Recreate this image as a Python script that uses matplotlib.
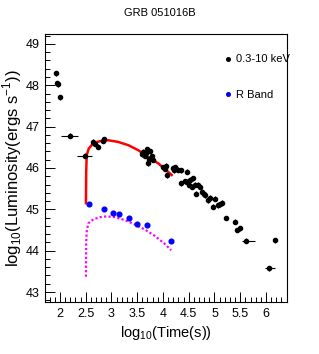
import numpy as np
import matplotlib
matplotlib.use('Agg')
import matplotlib.pyplot as plt
from matplotlib.lines import Line2D
from matplotlib.ticker import MultipleLocator

plt.rcParams['font.family'] = ['Liberation Sans', 'DejaVu Sans']
plt.rcParams['mathtext.fontset'] = 'custom'
plt.rcParams['mathtext.rm'] = 'Liberation Sans'

# X-ray (0.3-10 keV), log10 t and log10 L
xray_t = [1.92, 1.95, 1.97, 2.00, 2.65, 2.68, 2.73, 2.85, 2.83,
          3.59, 3.62, 3.65, 3.68, 3.70, 3.72, 3.71, 3.75, 3.78, 3.80,
          4.00, 4.04, 4.07, 4.06, 4.20, 4.23, 4.22, 4.30, 4.36, 4.46,
          4.36, 4.42, 4.46, 4.50, 4.52, 4.56, 4.59, 4.62, 4.65, 4.69,
          4.72, 4.75, 4.80, 4.82, 4.88, 4.92, 4.98, 5.01, 5.07, 5.10,
          5.14, 5.40, 5.43, 5.50, 6.17]
xray_L = [48.29, 48.05, 48.02, 47.71, 46.63, 46.58, 46.51, 46.69, 46.66,
          46.33, 46.39, 46.30, 46.35, 46.45, 46.22, 46.11, 46.40, 46.28, 46.20,
          46.02, 45.98, 45.82, 46.05, 45.99, 46.02, 45.95, 45.96, 45.94, 45.91,
          45.63, 45.68, 45.67, 45.60, 45.71, 45.55, 45.75, 45.60, 45.38, 45.59,
          45.55, 45.42, 45.38, 45.34, 45.22, 45.28, 45.06, 45.26, 45.10, 45.12,
          45.16, 44.70, 44.50, 44.54, 44.25]

# X-ray bins with time error bars
bin_t = [2.19, 2.49, 5.22, 5.61, 6.05]
bin_L = [46.78, 46.30, 44.79, 44.24, 43.57]
bin_lo = [2.03, 2.34, 5.18, 5.53, 5.98]
bin_hi = [2.36, 2.63, 5.26, 5.79, 6.17]

# R band
r_t = [2.56, 2.85, 3.04, 3.15, 3.35, 3.50, 3.69, 4.16]
r_L = [45.12, 45.00, 44.91, 44.88, 44.80, 44.64, 44.61, 44.23]

# model curves
red_t = [2.505, 2.51, 2.52, 2.56, 2.65, 2.78, 2.94, 3.13, 3.33, 3.52, 3.71, 3.91, 4.04, 4.17]
red_L = [45.15, 45.90, 46.31, 46.47, 46.60, 46.65, 46.67, 46.63, 46.55, 46.43, 46.27, 46.11, 45.97, 45.83]
mag_t = [2.505, 2.51, 2.52, 2.55, 2.65, 2.78, 2.91, 3.07, 3.26, 3.46, 3.65, 3.84, 4.03, 4.16]
mag_L = [43.37, 44.20, 44.46, 44.66, 44.76, 44.81, 44.83, 44.81, 44.74, 44.63, 44.51, 44.36, 44.17, 44.01]

fig = plt.figure(figsize=(3.19, 3.54), dpi=100)
ax = fig.add_axes([0.141, 0.147, 0.759, 0.757])

ax.plot(red_t, red_L, color='#ff0000', lw=1.8, zorder=2)
ax.plot(mag_t, mag_L, color='#ff00ff', lw=1.6, ls=(0, (1, 1)), zorder=2)

ax.errorbar(xray_t, xray_L, yerr=0.06, fmt='o', ms=3.0, color='black',
            ecolor='black', elinewidth=0.8, capsize=0, zorder=3)
xerr = [np.array(bin_t) - np.array(bin_lo), np.array(bin_hi) - np.array(bin_t)]
ax.errorbar(bin_t, bin_L, xerr=xerr, yerr=0.06, fmt='o', ms=3.0, color='black',
            ecolor='black', elinewidth=0.8, capsize=0, zorder=3)
ax.errorbar(r_t, r_L, yerr=0.04, fmt='o', ms=3.4, color='#0000ff',
            ecolor='#0000ff', elinewidth=0.8, capsize=0, zorder=3)

ax.set_xlim(1.71, 6.41)
ax.set_ylim(42.76, 49.24)
ax.xaxis.set_major_locator(MultipleLocator(0.5))
ax.xaxis.set_minor_locator(MultipleLocator(0.1))
ax.yaxis.set_major_locator(MultipleLocator(1))
ax.yaxis.set_minor_locator(MultipleLocator(0.2))
ax.xaxis.set_major_formatter(plt.FuncFormatter(lambda v, p: '%g' % v))
ax.tick_params(which='both', direction='in', top=False, right=False, labelsize=9, width=0.7)
ax.tick_params(which='major', length=7, pad=4)
ax.tick_params(which='minor', length=3.5)
for s in ax.spines.values():
    s.set_linewidth(0.8)

ax.set_xlabel(r'log$_{10}$(Time(s))', fontsize=10.5, labelpad=3)
ax.set_ylabel(r'log$_{10}$(Luminosity(ergs s$^{-1}$))', fontsize=12)
ax.yaxis.set_label_coords(-0.088, 0.5)
fig.text(0.5, 0.962, 'GRB 051016B', ha='center', va='center', fontsize=8)

handles = [Line2D([], [], ls='none', marker='o', ms=2.6, color='black'),
           Line2D([], [], ls='none', marker='o', ms=2.6, color='#0000ff')]
ax.legend(handles, ['0.3-10 keV', 'R Band'], loc='upper left', frameon=False,
          fontsize=8, labelspacing=2.33, handlelength=0.5, handletextpad=0.5,
          bbox_to_anchor=(0.703, 0.961))

fig.savefig('out.png', dpi=100)
